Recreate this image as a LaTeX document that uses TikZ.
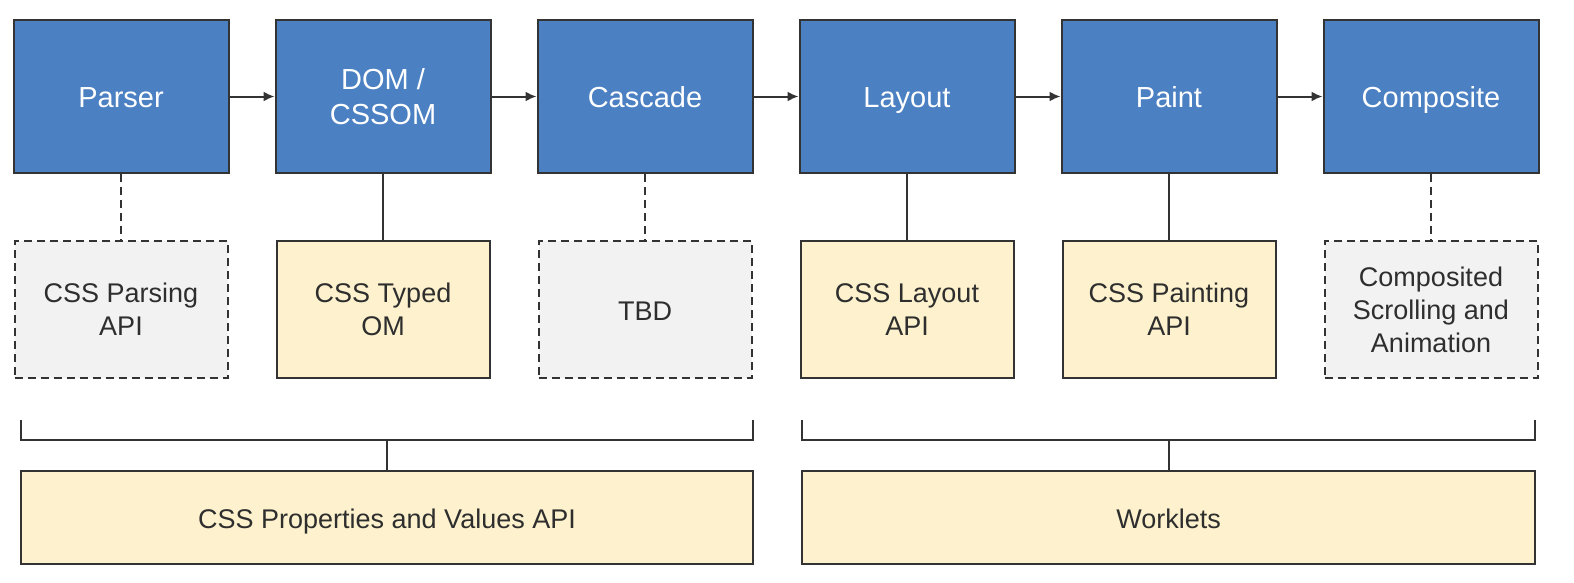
\documentclass[tikz,border=0pt]{standalone}
\usepackage{fontspec}
\setmainfont{Liberation Sans}
\usepackage{tikz}
\usetikzlibrary{arrows.meta, shapes}

\definecolor{stageblue}{HTML}{4B80C2}
\definecolor{apiyellow}{HTML}{FDF2CD}
\definecolor{tbdgray}{HTML}{F2F2F2}
\definecolor{linegray}{HTML}{333333}
\definecolor{textgray}{HTML}{2E2E2E}

\tikzset{oneline/.style={text height=21pt, text depth=0pt}}

\begin{document}
\begin{tikzpicture}[x=1pt,y=-1pt]
\useasboundingbox (0,0) rectangle (1574,582);

% pipeline stages
\begin{scope}[every node/.style={rectangle,draw=linegray,line width=2pt,fill=stageblue,
              text=white,align=center,minimum width=215pt,minimum height=153pt,
              font=\fontsize{29}{35}\selectfont}]
    \node[oneline] (parser) at (121,96.5) {Parser};
    \node (dom) at (383,96.5) {DOM /\\CSSOM};
    \node[oneline] (cascade) at (645,96.5) {Cascade};
    \node[oneline] (layout) at (907,96.5) {Layout};
    \node[oneline] (paint) at (1169,96.5) {Paint};
    \node[oneline] (composite) at (1431,96.5) {Composite};
\end{scope}

% houdini apis
\begin{scope}[every node/.style={rectangle,draw=linegray,line width=2pt,
              text=textgray,align=center,minimum width=213pt,minimum height=137pt,
              font=\fontsize{27}{33}\selectfont}]
    \node[fill=tbdgray, dash pattern=on 8pt off 5pt] (parsingapi) at (121,309.5) {CSS Parsing\\API};
    \node[fill=apiyellow] (typedom) at (383,309.5) {CSS Typed\\OM};
    \node[fill=tbdgray, dash pattern=on 8pt off 5pt, oneline] (tbd) at (645,309.5) {TBD};
    \node[fill=apiyellow] (layoutapi) at (907,309.5) {CSS Layout\\API};
    \node[fill=apiyellow] (paintapi) at (1169,309.5) {CSS Painting\\API};
    \node[fill=tbdgray, dash pattern=on 8pt off 5pt] (scrollapi) at (1431,309.5) {Composited\\Scrolling and\\Animation};
\end{scope}

% shared apis
\begin{scope}[every node/.style={rectangle,draw=linegray,line width=2pt,fill=apiyellow,
              text=textgray,align=center,minimum height=93pt,oneline,
              font=\fontsize{27}{33}\selectfont}]
    \node[minimum width=732pt] (propsapi) at (387,517.5) {CSS Properties and Values API};
    \node[minimum width=733pt] (worklets) at (1168.5,517.5) {Worklets};
\end{scope}

\begin{scope}[>={Latex[length=11pt,width=10pt]},
              every edge/.style={draw=linegray, line width=2pt}]
    \path [->] (parser) edge (dom);
    \path [->] (dom) edge (cascade);
    \path [->] (cascade) edge (layout);
    \path [->] (layout) edge (paint);
    \path [->] (paint) edge (composite);
\end{scope}

\begin{scope}[every edge/.style={draw=linegray, line width=2pt}]
    \path (parser) edge[dash pattern=on 8pt off 5pt] (parsingapi);
    \path (dom) edge (typedom);
    \path (cascade) edge[dash pattern=on 8pt off 5pt] (tbd);
    \path (layout) edge (layoutapi);
    \path (paint) edge (paintapi);
    \path (composite) edge[dash pattern=on 8pt off 5pt] (scrollapi);
\end{scope}

% brackets
\coordinate (leftL) at (21,420);
\coordinate (leftR) at (753,420);
\coordinate (leftM) at (387,440);
\coordinate (rightL) at (802,420);
\coordinate (rightR) at (1535,420);
\coordinate (rightM) at (1168.5,440);
\begin{scope}[line width=2pt, draw=linegray]
    \draw (leftL) |- (leftM) -| (leftR);
    \draw (leftM) -- (propsapi);
    \draw (rightL) |- (rightM) -| (rightR);
    \draw (rightM) -- (worklets);
\end{scope}
\end{tikzpicture}
\end{document}
